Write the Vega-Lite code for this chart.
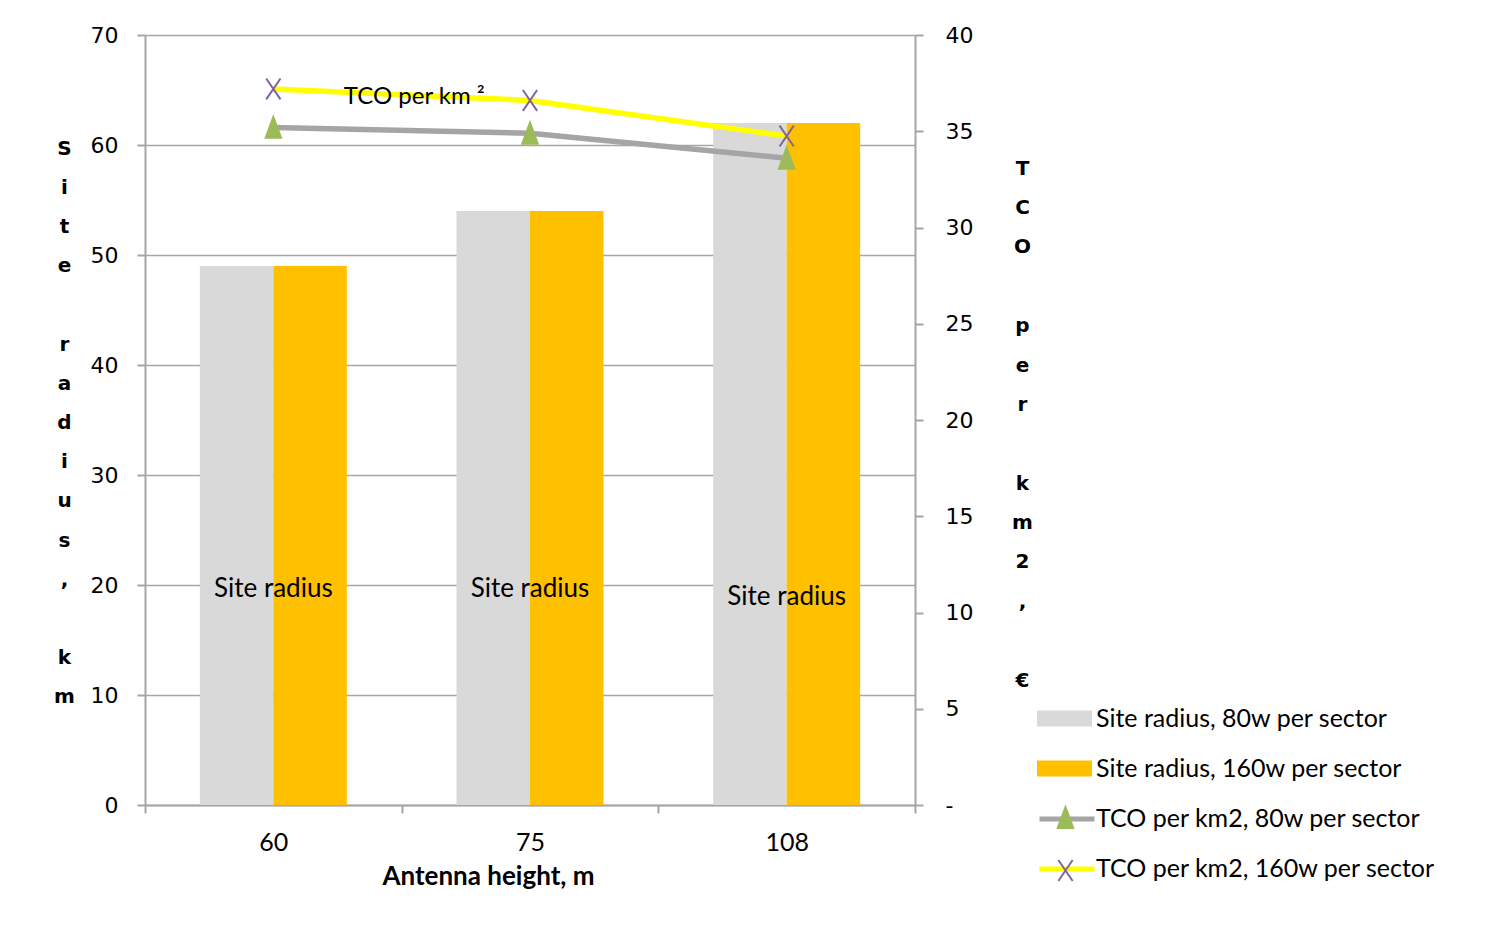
{
  "$schema": "https://vega.github.io/schema/vega-lite/v6.json",
  "width": 770,
  "height": 770,
  "autosize": {"type": "none"},
  "padding": {"left": 145, "top": 35, "right": 593, "bottom": 126},
  "background": "white",
  "config": {"view": {"stroke": null}, "font": "Lato"},
  "datasets": {
    "bars": [
      {"height": 60, "series": "Site radius, 80w per sector", "radius": 49},
      {"height": 60, "series": "Site radius, 160w per sector", "radius": 49},
      {"height": 75, "series": "Site radius, 80w per sector", "radius": 54},
      {"height": 75, "series": "Site radius, 160w per sector", "radius": 54},
      {"height": 108, "series": "Site radius, 80w per sector", "radius": 62},
      {"height": 108, "series": "Site radius, 160w per sector", "radius": 62}
    ],
    "tco": [
      {"height": 60, "series": "TCO per km2, 80w per sector", "marker": "TCO per km2, 80w per sector", "tco": 35.2},
      {"height": 75, "series": "TCO per km2, 80w per sector", "marker": "TCO per km2, 80w per sector", "tco": 34.9},
      {"height": 108, "series": "TCO per km2, 80w per sector", "marker": "TCO per km2, 80w per sector", "tco": 33.6},
      {"height": 60, "series": "TCO per km2, 160w per sector", "marker": "TCO per km2, 160w per sector", "tco": 37.2},
      {"height": 75, "series": "TCO per km2, 160w per sector", "marker": "TCO per km2, 160w per sector", "tco": 36.6},
      {"height": 108, "series": "TCO per km2, 160w per sector", "marker": "TCO per km2, 160w per sector", "tco": 34.75}
    ],
    "barLabels": [
      {"height": 60, "label": "Site radius", "pos": 19.6},
      {"height": 75, "label": "Site radius", "pos": 19.6},
      {"height": 108, "label": "Site radius", "pos": 18.9}
    ],
    "tcoLabel": [
      {"height": 60, "label": "TCO per km ²", "pos": 36.8}
    ]
  },
  "layer": [
    {
      "data": {"name": "bars"},
      "mark": {"type": "bar"},
      "encoding": {
        "x": {
          "field": "height", "type": "ordinal",
          "scale": {"paddingInner": 0, "paddingOuter": 0},
          "axis": {
            "title": "Antenna height, m", "titleFont": "Lato", "titleFontWeight": "bold", "titleFontSize": 26,
            "titleColor": "black", "titleX": 343, "titleY": 71, "titleBaseline": "middle", "titleAlign": "center",
            "labelAngle": 0, "labelFont": "Lato", "labelFontSize": 25, "labelColor": "black", "labelPadding": 17,
            "tickBand": "extent", "tickSize": 8, "tickColor": "#a6a6a6", "tickWidth": 2,
            "domainColor": "#a6a6a6", "domainWidth": 2, "grid": false
          }
        },
        "xOffset": {
          "field": "series", "type": "nominal",
          "scale": {"domain": ["Site radius, 80w per sector", "Site radius, 160w per sector"], "paddingInner": 0, "paddingOuter": 0.7464}
        },
        "y": {
          "field": "radius", "type": "quantitative",
          "scale": {"domain": [0, 70]},
          "axis": {
            "title": ["S", "i", "t", "e", "\u200b", "r", "a", "d", "i", "u", "s", ",", "\u200b", "k", "m"],
            "titleAngle": 0, "titleFont": "DejaVu Sans", "titleFontWeight": "bold", "titleFontSize": 20,
            "titleColor": "black", "titleLineHeight": 39.2, "titleX": -81, "titleY": 113,
            "titleAlign": "center", "titleBaseline": "middle",
            "values": [0, 10, 20, 30, 40, 50, 60, 70],
            "labelFont": "DejaVu Sans", "labelFontSize": 22, "labelColor": "black", "labelPadding": 19,
            "tickSize": 8, "tickColor": "#a6a6a6", "tickWidth": 2,
            "domainColor": "#a6a6a6", "domainWidth": 2,
            "grid": true, "gridColor": "#a6a6a6", "gridWidth": 1.5
          }
        },
        "fill": {
          "field": "series", "type": "nominal",
          "scale": {"domain": ["Site radius, 80w per sector", "Site radius, 160w per sector"], "range": ["#d9d9d9", "#ffc000"]},
          "legend": {
            "orient": "none", "legendX": 892, "legendY": 656, "title": null, "padding": 0,
            "symbolType": "M-1,-0.29H1V0.29H-1Z", "symbolSize": 3025, "symbolStrokeWidth": 0,
            "labelFont": "Lato", "labelFontSize": 25, "labelColor": "black", "labelOffset": 4, "labelLimit": 500, "rowPadding": 9
          }
        }
      }
    },
    {
      "data": {"name": "barLabels"},
      "mark": {"type": "text", "font": "Lato", "fontSize": 26, "color": "black", "align": "center", "baseline": "middle"},
      "encoding": {
        "x": {"field": "height", "type": "ordinal"},
        "y": {"field": "pos", "type": "quantitative", "scale": {"domain": [0, 70]}, "axis": null},
        "text": {"field": "label"}
      }
    },
    {
      "data": {"name": "tco"},
      "mark": {"type": "line", "strokeWidth": 5.5},
      "encoding": {
        "x": {"field": "height", "type": "ordinal"},
        "y": {
          "field": "tco", "type": "quantitative",
          "scale": {"domain": [0, 40]},
          "axis": {
            "orient": "right",
            "title": ["T", "C", "O", "\u200b", "p", "e", "r", "\u200b", "k", "m", "2", ",", "\u200b", "€"],
            "titleAngle": 0, "titleFont": "DejaVu Sans", "titleFontWeight": "bold", "titleFontSize": 20,
            "titleColor": "black", "titleLineHeight": 39.4, "titleX": 107, "titleY": 133,
            "titleAlign": "center", "titleBaseline": "middle",
            "values": [0, 5, 10, 15, 20, 25, 30, 35, 40],
            "labelExpr": "datum.value == 0 ? '-' : datum.label",
            "labelFont": "DejaVu Sans", "labelFontSize": 22, "labelColor": "black", "labelPadding": 22,
            "tickSize": 8, "tickColor": "#a6a6a6", "tickWidth": 2,
            "domainColor": "#a6a6a6", "domainWidth": 2, "grid": false
          }
        },
        "stroke": {
          "field": "series", "type": "nominal",
          "scale": {"domain": ["TCO per km2, 80w per sector", "TCO per km2, 160w per sector"], "range": ["#a5a5a5", "#ffff00"]},
          "legend": {
            "orient": "none", "legendX": 892, "legendY": 754, "title": null, "padding": 0,
            "symbolType": "stroke", "symbolSize": 3025, "symbolStrokeWidth": 5,
            "labelFont": "Lato", "labelFontSize": 25, "labelColor": "black", "labelOffset": -1, "labelLimit": 500, "rowPadding": 7
          }
        }
      }
    },
    {
      "data": {"name": "tco"},
      "mark": {"type": "point", "size": 3025, "strokeWidth": 2, "opacity": 1},
      "encoding": {
        "x": {"field": "height", "type": "ordinal"},
        "y": {"field": "tco", "type": "quantitative", "scale": {"domain": [0, 40]}, "axis": null},
        "shape": {
          "field": "marker", "type": "nominal",
          "scale": {"domain": ["TCO per km2, 80w per sector", "TCO per km2, 160w per sector"], "range": ["M-0.28,0.38L0,-0.38L0.28,0.38Z", "M-0.26,-0.38L0.26,0.38M-0.26,0.38L0.26,-0.38"]},
          "legend": {
            "orient": "none", "legendX": 892, "legendY": 754, "title": null, "padding": 0,
            "symbolSize": 3025, "symbolStrokeWidth": 2, "labelOpacity": 0,
            "labelFont": "Lato", "labelFontSize": 25, "labelOffset": 2, "labelLimit": 500, "rowPadding": 10
          }
        },
        "fill": {
          "field": "marker", "type": "nominal",
          "scale": {"domain": ["TCO per km2, 80w per sector", "TCO per km2, 160w per sector"], "range": ["#9bbb59", "transparent"]},
          "legend": {
            "orient": "none", "legendX": 892, "legendY": 754, "title": null, "padding": 0,
            "symbolSize": 3025, "symbolStrokeWidth": 2, "labelOpacity": 0,
            "labelFont": "Lato", "labelFontSize": 25, "labelOffset": 2, "labelLimit": 500, "rowPadding": 10
          }
        },
        "stroke": {
          "field": "marker", "type": "nominal",
          "scale": {"domain": ["TCO per km2, 80w per sector", "TCO per km2, 160w per sector"], "range": ["#9bbb59", "#8064a2"]},
          "legend": {
            "orient": "none", "legendX": 892, "legendY": 754, "title": null, "padding": 0,
            "symbolSize": 3025, "symbolStrokeWidth": 2, "labelOpacity": 0,
            "labelFont": "Lato", "labelFontSize": 25, "labelOffset": 2, "labelLimit": 500, "rowPadding": 10
          }
        }
      }
    },
    {
      "data": {"name": "tcoLabel"},
      "mark": {"type": "text", "font": "Lato", "fontSize": 24, "color": "black", "align": "center", "baseline": "middle", "dx": 141},
      "encoding": {
        "x": {"field": "height", "type": "ordinal"},
        "y": {"field": "pos", "type": "quantitative", "scale": {"domain": [0, 40]}, "axis": null},
        "text": {"field": "label"}
      }
    }
  ],
  "resolve": {"scale": {"y": "independent", "fill": "independent", "stroke": "independent", "shape": "independent"}}
}
